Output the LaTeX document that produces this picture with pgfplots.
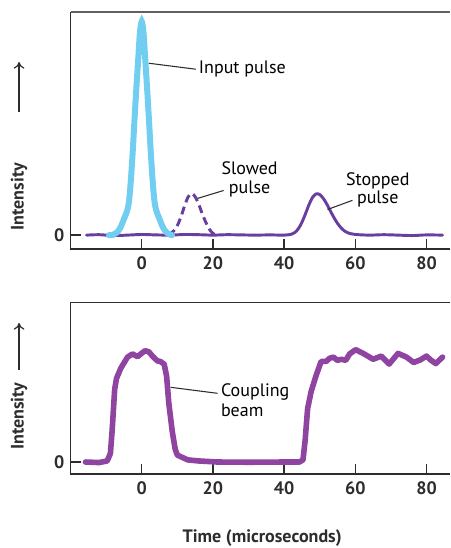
\documentclass[border=0pt]{standalone}
\usepackage{pgfplots}
\pgfplotsset{compat=1.18}
\usetikzlibrary{arrows.meta}
\usepackage{fontspec}
\setmainfont{PT Sans}

\definecolor{pulseblue}{RGB}{114,206,240}
\definecolor{toppurple}{RGB}{104,62,160}
\definecolor{beampurple}{RGB}{142,68,160}
\definecolor{axisgray}{RGB}{45,45,45}

\pgfplotsset{
  panel/.style={
    scale only axis, width=284.6pt, clip=false,
    xmin=-20, xmax=86.6,
    axis line style={draw=none},
    xtick={0,20,40,60,80}, ytick={0},
    xtick pos=bottom, ytick pos=left,
    tick align=inside, major tick length=7.5pt,
    tick style={axisgray, line width=1.1pt},
    /pgf/number format/assume math mode=true,
    ticklabel style={font=\fontsize{13.5}{16}\selectfont\bfseries, text=axisgray},
    xticklabel style={yshift=-2.5pt},
    yticklabel style={xshift=-1.2pt},
  },
}

\begin{document}
\begin{tikzpicture}[font=\fontsize{13.5}{16}\selectfont]
\path[use as bounding box] (-52.9pt,9pt) rectangle (284.6pt,-402pt);

% upper panel: pulses
\begin{axis}[panel, at={(0,0)}, anchor=north west, height=177.75pt,
  ymin=-0.065, ymax=1.045]
  \draw[gray!75!black, line width=1.2pt] (rel axis cs:0,1) -- (rel axis cs:1,1);
  \draw[axisgray, line width=1.2pt] (rel axis cs:0,1) -- (rel axis cs:0,0) -- (rel axis cs:1,0);

  \addplot[toppurple, line width=2.2pt, smooth, line cap=round] coordinates {
    (-15.5,0.000) (-12,0.002) (-8,-0.002) (-4,0.000) (0,0.003) (4,0.001)
    (8,0.000) (12,0.003) (16,0.002) (20,0.000) (24,0.002) (28,0.001)
    (32,0.000) (36,0.001) (40,0.000) (42,0.004) (43,0.012) (44,0.030)
    (45,0.060) (46,0.100) (47,0.143) (48,0.177) (49,0.193) (50,0.190)
    (51,0.172) (52,0.145) (53,0.113) (54,0.082) (55,0.055) (56,0.034)
    (57,0.019) (58,0.010) (60,0.003) (64,0.000) (68,0.002) (72,0.000)
    (76,-0.002) (80,0.001) (84.5,0.000)
  };
  % slowed pulse
  \addplot[toppurple, line width=2.2pt, smooth, dash pattern=on 6pt off 3.5pt] coordinates {
    (7.5,0.000) (9,0.020) (10,0.045) (11,0.085) (12,0.135) (13,0.178)
    (14,0.195) (15,0.180) (16,0.145) (17,0.100) (18,0.060) (19,0.028)
    (20,0.008) (21,0.000)
  };
  % input pulse
  \addplot[pulseblue, line width=4.5pt, smooth, line cap=round] coordinates {
    (-9.2,0.000) (-8,0.002) (-7,0.012) (-6,0.035) (-5,0.075) (-4,0.120)
    (-3.5,0.170) (-3,0.270) (-2.5,0.400) (-2,0.550) (-1.5,0.690) (-1,0.820)
    (-0.5,0.950) (0,1.000) (0.5,0.950) (1,0.820) (1.5,0.690) (2,0.550)
    (2.5,0.400) (3,0.270) (3.5,0.170) (4,0.120) (5,0.075) (6,0.035)
    (7,0.012) (8,0.002) (8.5,0.000)
  };

  \draw[line width=0.8pt, axisgray] (axis cs:2.0,0.805) -- (axis cs:15.2,0.777);
  \node[anchor=base west, inner sep=0pt] at (axis cs:16,0.758) {Input pulse};
  \draw[line width=0.8pt, axisgray] (axis cs:15.7,0.172) -- (axis cs:23.0,0.209);
  \node[anchor=base, inner sep=0pt] at (axis cs:30.3,0.284) {Slowed};
  \node[anchor=base, inner sep=0pt] at (axis cs:30.3,0.197) {pulse};
  \draw[line width=0.8pt, axisgray] (axis cs:52.2,0.120) -- (axis cs:59.2,0.163);
  \node[anchor=base, inner sep=0pt] at (axis cs:66.3,0.233) {Stopped};
  \node[anchor=base, inner sep=0pt] at (axis cs:66.3,0.147) {pulse};

  \node[rotate=90, font=\fontsize{13.5}{16}\selectfont\bfseries, text=axisgray]
    at ([xshift=-38.6pt]rel axis cs:0,0.22) {Intensity};
  \draw[axisgray, line width=0.9pt, -{To[length=5pt,width=8pt]}]
    ([xshift=-38.6pt]rel axis cs:0,0.578) -- ++(0pt,37.5pt);
\end{axis}

% lower panel: coupling beam
\begin{axis}[panel, at={(0,-218pt)}, anchor=north west, height=128.5pt,
  ymin=-0.112, ymax=1.489]
  \draw[axisgray, line width=1.2pt] (rel axis cs:1,1) -- (rel axis cs:0,1) -- (rel axis cs:0,0) -- (rel axis cs:1,0);

  \addplot[beampurple, line width=4.2pt, line join=round, line cap=round] coordinates {
    (-15.8,0.00) (-12,-0.005) (-9.7,0.01) (-8.8,0.08) (-8.3,0.30) (-7.6,0.68)
    (-7.1,0.78) (-5.9,0.875) (-4.0,0.98) (-2.6,1.01) (-1.2,0.985) (0.9,1.04)
    (2.0,1.03) (3.0,0.99) (4.4,0.945) (5.2,0.94) (6.3,0.915) (7.0,0.80)
    (7.6,0.55) (8.6,0.28) (9.4,0.12) (10.0,0.065) (12.9,0.02) (16,0.01)
    (21.3,0.0) (30,-0.002) (40,0.0) (44.3,0.0) (45.3,0.02) (45.9,0.20)
    (46.6,0.50) (47.6,0.66) (49.0,0.81) (50.4,0.94) (51.8,0.94) (52.8,0.97)
    (53.9,0.98) (54.9,0.95) (56.1,0.96) (57.3,0.95) (58.4,1.01) (60.1,1.05)
    (62.2,1.015) (63.5,0.99) (65.0,0.96) (67.3,0.99) (69.5,0.915) (72.0,1.015)
    (74.4,0.98) (76.4,0.93) (78.3,0.955) (80.0,0.99) (81.1,0.955) (82.6,0.92)
    (84.5,0.98)
  };

  \draw[line width=0.8pt, axisgray] (axis cs:8.15,0.698) -- (axis cs:21.3,0.642);
  \node[anchor=base west, inner sep=0pt] at (axis cs:22.2,0.61) {Coupling};
  \node[anchor=base west, inner sep=0pt] at (axis cs:22.2,0.423) {beam};

  \node[rotate=90, font=\fontsize{13.5}{16}\selectfont\bfseries, text=axisgray]
    at ([xshift=-38.6pt]rel axis cs:0,0.336) {Intensity};
  \draw[axisgray, line width=0.9pt, -{To[length=5pt,width=8pt]}]
    ([xshift=-38.6pt]rel axis cs:0,0.607) -- ++(0pt,35.25pt);

  \node[font=\fontsize{13.5}{16}\selectfont\bfseries, text=axisgray]
    at ([yshift=-48pt]rel axis cs:0.505,0) {Time (microseconds)};
\end{axis}
\end{tikzpicture}
\end{document}
